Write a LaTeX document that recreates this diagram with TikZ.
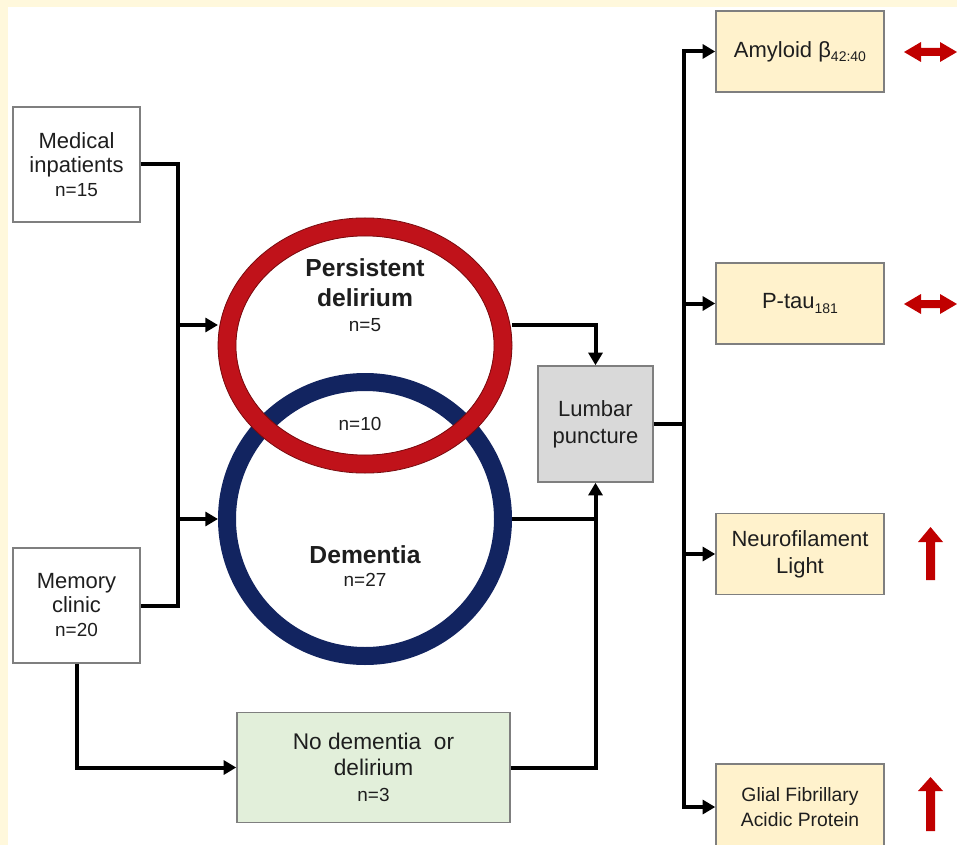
\documentclass[tikz,border=0pt]{standalone}
\usepackage{fontspec}
\setmainfont{Liberation Sans}
\usetikzlibrary{arrows.meta,shapes.geometric}
\definecolor{cream}{HTML}{FFF8DC}
\definecolor{boxgray}{HTML}{7F7F7F}
\definecolor{textc}{HTML}{1E1E1E}
\definecolor{bioFill}{HTML}{FFF2CC}
\definecolor{greenFill}{HTML}{E2EFDA}
\definecolor{lpFill}{HTML}{D9D9D9}
\definecolor{ringRed}{RGB}{192,18,26}
\definecolor{ringRedEdge}{RGB}{120,10,14}
\definecolor{ringBlue}{RGB}{18,36,96}
\definecolor{arrRed}{RGB}{192,0,0}
\newcommand\subtxt[1]{\raisebox{-0.4ex}{\fontsize{10.5}{12}\selectfont #1}}
\newcommand\nsize{\fontsize{14.2}{16}\selectfont}
\begin{document}
\begin{tikzpicture}[x=0.75pt,y=-0.75pt,
  box/.style={draw=boxgray, line width=1.1pt, fill=white, align=center, inner sep=0pt,
    text=textc, font=\fontsize{16.5}{18}\selectfont},
  srcbox/.style={box, minimum width=95.25pt, minimum height=86.25pt},
  biobox/.style={box, fill=bioFill, minimum width=126pt, minimum height=60.75pt},
  ring/.style={ellipse, line width=13.5pt, inner sep=0pt, minimum width=207pt},
  lbl/.style={align=center, text=textc, inner sep=0pt},
  conn/.style={line width=3pt, draw=black},
  arr/.style={conn, -{Triangle[length=9.5pt,width=10.5pt]}}
]
\useasboundingbox (0,0) rectangle (957,845);
\fill[white] (0,0) rectangle (957,845);
\fill[cream] (0,0) rectangle (957,7);
\fill[cream] (0,0) rectangle (8,845);

% source boxes
\node[srcbox] (med) at (76.5,164.5) {Medical\\inpatients\\{\nsize n=15}};
\node[srcbox] (mem) at (76.5,605.5) {Memory\\clinic\\{\nsize n=20}};
\node[box, fill=greenFill, minimum width=204.75pt, minimum height=82.5pt, font=\fontsize{17}{19.5}\selectfont]
  (nd) at (373.5,767.5) {No dementia\ \ or\\delirium\\{\nsize n=3}};
\node[box, fill=lpFill, minimum width=86.25pt, minimum height=87pt, font=\fontsize{16.5}{20.5}\selectfont]
  (lp) at (595.5,424) {Lumbar\\puncture};

% rings
\node[ring, draw=ringBlue, minimum height=205.5pt] (dem) at (365,519) {};
\node[ring, draw=ringRed, minimum height=177.75pt] (pd) at (365,345.5) {};
\draw[ringRedEdge, line width=0.6pt] (pd.center) ellipse [x radius=110.2pt, y radius=95.7pt];
\draw[ringRedEdge, line width=0.6pt] (pd.center) ellipse [x radius=96.8pt, y radius=82.2pt];

% ring labels
\node[lbl, font=\bfseries\fontsize{18.5}{22.5}\selectfont] (pdt) at (365,283) {Persistent\\delirium};
\node[lbl, font=\nsize] (pdn) at (365,325) {n=5};
\node[lbl, font=\nsize] (ovn) at (360,424) {n=10};
\node[lbl, font=\bfseries\fontsize{18.5}{22.5}\selectfont] (demt) at (365,555) {Dementia};
\node[lbl, font=\nsize] (demn) at (365,580) {n=27};

% biomarker boxes
\node[biobox] (amy) at (800,51.5) {Amyloid β\subtxt{42:40}};
\node[biobox] (pt) at (800,303.5) {P-tau\subtxt{181}};
\node[biobox, font=\fontsize{16.5}{20}\selectfont] (nf) at (800,554) {Neurofilament\\Light};
\node[biobox, minimum height=64.5pt, font=\fontsize{14.5}{18.5}\selectfont] (gf) at (800,807) {Glial Fibrillary\\Acidic Protein};

% connectors
\coordinate (jm) at (178,605.5);
\coordinate (r1) at (178,325);
\coordinate (b1) at (178,519);
\coordinate (sp) at (684,424);
\draw[conn] (med.east) -| (jm) -- (mem.east);
\draw[arr] (r1) -- (r1 -| pd.west);
\draw[arr] (b1) -- (dem.west);
\draw[arr] (mem.south) |- (nd.west);
\draw[arr] (pd.east |- r1) -| (lp.north);
\draw[conn] (dem.east) -- (dem.east -| lp.south);
\draw[arr] (nd.east) -| (lp.south);
\draw[conn] (lp.east) -- (sp);
\draw[arr] (sp) |- (amy.west);
\draw[arr] (sp) |- (gf.west);
\draw[arr] (pt.west -| sp) -- (pt.west);
\draw[arr] (nf.west -| sp) -- (nf.west);

% red indicator arrows
\fill[arrRed] (904,52) -- (921,42) -- (921,48) -- (940,48) -- (940,42) -- (957,52)
  -- (940,62) -- (940,56) -- (921,56) -- (921,62) -- cycle;
\fill[arrRed] (904,304) -- (921,294) -- (921,300) -- (940,300) -- (940,294) -- (957,304)
  -- (940,314) -- (940,308) -- (921,308) -- (921,314) -- cycle;
\fill[arrRed] (930.5,527) -- (943,542) -- (935,542) -- (935,580) -- (926,580) -- (926,542) -- (918,542) -- cycle;
\fill[arrRed] (930.5,777) -- (943,791) -- (935,791) -- (935,831) -- (926,831) -- (926,791) -- (918,791) -- cycle;
\end{tikzpicture}
\end{document}
